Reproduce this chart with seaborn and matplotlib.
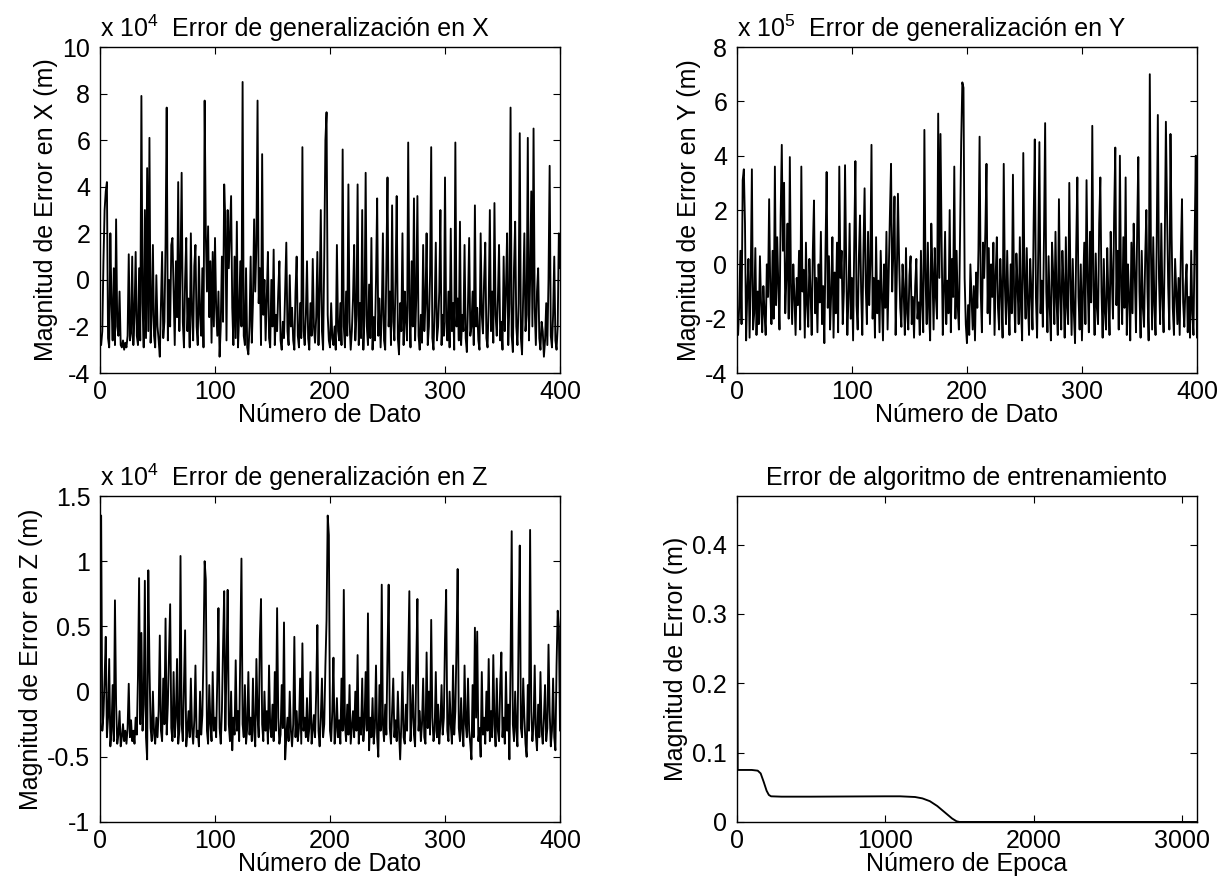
import numpy as np
import matplotlib
matplotlib.use("Agg")
import matplotlib.pyplot as plt
from matplotlib.ticker import FormatStrFormatter
import seaborn as sns

# error de generalizacion en X (en unidades del eje, x 10^4)
err_x = [
    -2.8, -2.2, 0.8, 3.0, 3.8, 4.2, -2.5, -2.9, 2.0, -1.0, -2.6, 0.5, -2.8, 2.6, -2.0, -2.4, -0.5, -2.8, -2.9, -2.6,
    -3.0, -2.7, -2.9, -2.4, 1.1, -2.6, -2.3, 1.0, -2.8, -1.5, 1.2, -2.4, -2.8, 0.5, -2.6, 7.9, -1.0, -2.9, 3.0, -2.5,
    4.8, -2.2, 6.1, -2.7, -1.5, 1.5, -2.4, -2.9, 0.2, -2.0, -2.6, -3.3, -1.0, 1.2, -2.5, -1.8, 1.5, 7.4, -2.6, 0.0,
    -2.0, 1.5, 1.8, -0.5, -2.8, 0.8, -1.6, 4.2, -2.2, 0.5, 4.6, -1.8, -2.9, 0.0, 1.8, -2.2, -0.8, -2.9, 2.0, -1.5,
    -2.6, 0.6, 1.5, -2.0, -2.8, 1.0, -1.5, -2.4, 0.5, -2.9, 7.7, 2.0, -0.5, 2.3, -1.6, 0.8, -2.7, 1.2, -2.0, 1.8,
    -1.2, -2.4, -0.5, -3.3, -2.0, 1.0, -1.8, 4.1, 2.5, -2.6, 3.0, 0.5, 2.0, 3.6, -1.2, -2.8, 1.0, -2.5, 2.5, -2.9,
    -1.5, 0.8, -2.0, 8.5, -2.4, -2.8, 0.5, -2.9, -3.2, -2.0, 1.0, -2.7, -1.0, 2.6, -0.5, 1.5, 7.7, -1.0, 0.5, -2.8,
    5.4, -1.5, 0.0, -2.6, -0.8, 1.2, -2.5, -2.9, 0.0, -2.0, 1.3, -2.8, -1.5, -2.2, -0.5, 0.8, -2.6, -3.0, -1.8, -2.5,
    -0.5, 1.6, -2.2, -2.8, 0.2, -2.0, -1.2, -2.6, -3.0, -0.5, 1.0, -2.4, -2.9, -1.0, -2.5, 5.7, -2.2, -2.8, -1.5, 0.8,
    -2.5, -3.0, -1.0, -2.4, 0.9, -2.0, -2.7, -1.6, 1.2, -2.8, -0.5, 3.0, -2.2, -3.0, 1.0, 6.0, 7.2, -1.5, -2.6, -2.9,
    -1.0, -2.5, -2.8, -2.0, -3.0, 1.5, -2.2, -2.6, -1.0, -2.8, 5.6, -2.0, -2.9, -0.5, -2.4, 4.1, -1.8, -3.0, -2.2, -0.8,
    1.5, -2.6, -1.5, 4.1, -2.8, -1.0, -2.5, 3.0, -3.0, -1.5, 4.6, -2.0, -2.8, -0.2, -2.5, 1.8, -3.0, -1.6, -2.6, 0.0,
    3.5, -2.4, -0.8, -2.9, -1.5, 2.0, -2.6, -3.0, 0.5, 4.4, -2.0, -0.5, -2.8, 3.2, -1.8, -2.6, 0.0, 3.6, -2.5, -3.2,
    -1.0, -2.2, 2.0, -2.8, -0.5, -1.8, -2.6, 5.9, -1.2, -2.9, 0.8, -2.0, 3.5, -2.6, -0.8, 3.6, -2.4, -3.0, -1.5, -2.7,
    1.5, -2.2, -1.0, 2.0, -2.8, -2.0, 0.2, 5.7, -2.5, -3.0, -1.2, 1.6, -2.6, -2.0, -0.5, 3.0, -2.8, -1.5, -2.4, 4.4,
    -1.8, -2.6, -0.5, -2.9, 2.2, -2.2, -1.0, -3.0, 5.9, -2.0, -0.8, -2.6, 2.5, -2.8, -1.5, -2.2, 1.5, -2.5, -3.1, -1.0,
    1.8, -2.4, -2.0, -0.5, -2.8, 3.2, -2.0, -1.2, -2.6, -3.0, 2.0, -1.5, -2.3, 0.0, 1.6, -2.5, -2.9, -1.0, 3.0, -2.2,
    -0.5, -2.7, 3.3, -1.5, -2.4, -0.8, 1.5, -2.6, -1.8, -3.0, 1.0, -2.2, -0.5, 2.0, -2.8, -1.0, 7.4, -2.4, -3.1, 0.5,
    2.5, -2.0, -2.8, -1.0, 6.3, -2.5, -3.2, -0.5, 2.0, -2.2, -1.5, 6.1, -2.6, 0.0, 3.8, -2.0, 6.5, -1.2, -2.8, -0.5,
    0.5, -2.5, -3.0, -1.8, -2.2, -3.3, -2.6, -1.0, -2.8, 0.0, 4.9, -2.4, -2.9, -1.5, 1.0, -2.6, -3.0, -2.0, 2.0, 0.5,
]

# error de generalizacion en Y (x 10^5)
err_y = [
    -2.6, -1.5, 0.5, -2.2, 3.1, 3.5, 1.5, -2.8, -1.0, 0.2, -2.7, -0.5, 3.5, -2.4, -1.8, 0.6, -2.6, -1.0, -2.2, 0.3,
    -1.5, -2.5, -0.8, -1.8, -2.6, 0.0, -1.2, 2.4, -1.0, -2.2, 0.5, -2.0, 3.6, -1.5, 1.0, -0.8, -2.4, 1.8, 4.4, 0.5,
    3.0, -1.8, -0.5, 1.5, -2.0, 3.95, -0.8, -2.2, 0.0, -1.2, -2.6, -0.5, -1.5, 0.5, -2.4, 3.6, -1.0, -0.2, -2.7, 0.8,
    -1.5, -2.3, 0.2, -1.0, -2.6, 0.5, 2.35, -1.8, -0.5, -2.5, 0.0, -1.4, 1.2, -2.2, -0.8, -2.9, 0.5, 3.4, -1.6, 0.3,
    -2.4, -1.0, 1.0, -2.7, -0.3, -1.8, 0.8, -2.5, 3.6, -0.5, 0.5, -2.2, -1.0, 3.65, 0.0, -2.6, -1.2, 1.5, -2.0, -0.5,
    -2.8, 0.8, 3.8, -1.5, -2.4, 0.2, 1.8, -1.0, -2.6, 0.5, 2.8, -0.8, -2.2, 1.2, -1.5, 0.0, 4.4, -2.0, -0.5, -2.7,
    1.0, -1.8, -0.6, -2.5, 0.5, -1.2, -2.8, 0.0, -1.6, 1.2, -2.4, -0.2, 1.8, 3.7, -1.0, 0.5, 2.5, -2.6, -0.5, 2.6,
    0.2, -1.6, -2.3, 0.0, -1.0, -2.6, 0.6, -1.8, -2.4, -0.4, 0.3, -2.2, -1.2, -2.7, -0.8, 0.2, -2.0, -1.4, -2.6, 0.5,
    -1.5, -2.5, 4.95, -0.5, -2.2, 0.8, -1.6, -2.8, 1.5, -0.2, -2.4, 0.6, -1.2, -2.0, 5.55, -0.5, 4.8, 0.8, -2.6, -1.0,
    1.2, -2.2, -0.6, -1.8, 2.0, -2.5, 0.2, -1.2, 3.6, -2.0, 0.5, -1.5, -2.4, 1.0, 4.5, 6.7, 6.5, -0.5, -2.2, -2.9,
    -1.5, -2.6, 0.0, -1.2, -2.4, -0.8, -2.8, -0.3, -1.6, 0.5, 4.7, -1.0, -2.5, 0.8, -0.5, 1.2, 3.7, -1.8, 0.6, -2.2,
    0.0, -1.2, 0.8, -2.6, -0.4, 1.0, -1.6, -2.4, 0.2, -1.0, -2.7, 3.7, -0.8, -2.2, 0.5, -1.4, -2.6, 0.0, -1.8, 3.3,
    -1.2, -2.5, 0.4, -0.8, -2.2, 1.0, -1.6, -2.8, 4.1, -0.5, -2.0, 0.6, -1.4, -2.6, 0.2, -1.0, -2.4, 1.5, 4.6, -1.2,
    -2.7, 0.5, 4.5, -1.8, -0.6, -2.3, 1.0, 5.2, -1.0, -2.5, 0.3, -1.6, -2.8, 0.8, -0.4, -2.2, 1.2, -1.4, -2.6, 2.4,
    -1.2, -2.4, 0.5, -0.8, -2.7, 1.0, -1.6, -2.2, 3.0, -0.5, -2.6, 0.2, -1.8, -2.9, 0.6, 3.2, -1.2, -2.4, 0.0, -2.8,
    -1.0, 0.8, -2.2, 3.1, -0.6, -2.5, 1.2, -1.4, 5.1, -0.8, -2.6, 0.4, -1.6, -2.2, 1.5, 3.2, -1.0, -2.7, 0.2, -1.8,
    -2.4, 0.6, -1.2, -2.6, 1.2, -0.5, -2.0, 1.8, 4.3, -1.5, 0.5, -2.4, 4.0, -0.8, -2.2, 1.0, -1.6, 3.2, -2.6, 0.0,
    -1.2, -2.8, 0.8, -1.8, 1.5, -0.4, -2.5, 1.2, 3.95, -1.0, -2.7, 0.5, -1.6, -2.3, 0.2, 2.0, -1.0, -2.8, 7.0, 0.5,
    -2.4, 1.0, -1.5, -2.6, 0.8, 5.5, -0.5, -2.2, 1.5, -1.2, -2.5, 0.6, 5.25, 2.0, -0.8, -2.4, 4.8, 1.0, -1.6, -2.6,
    0.2, -1.0, -2.2, -0.5, -2.6, 0.4, 2.4, -1.4, -2.3, -0.8, 0.0, -2.5, -1.2, -2.7, 0.5, -1.8, -2.6, 1.0, 4.0, -2.7,
]

# error de generalizacion en Z (x 10^4)
err_z = [
    1.35, -0.30, -0.18, 0.10, 0.42, -0.35, -0.20, 0.25, -0.42, -0.30, 0.05, -0.38, 0.70, -0.10, -0.40, -0.33, -0.15, -0.42, -0.35, -0.25,
    -0.38, -0.30, -0.40, -0.28, 0.06, -0.35, -0.22, -0.38, -0.30, -0.40, -0.20, -0.33, 0.10, 0.87, -0.25, 0.45, -0.30, -0.10, 0.85, -0.35,
    -0.52, 0.93, 0.20, -0.28, -0.38, 0.00, -0.32, -0.40, -0.20, -0.35, -0.15, 0.43, -0.30, -0.38, 0.10, -0.25, 0.56, -0.33, -0.10, 0.30,
    0.67, -0.28, -0.38, 0.15, -0.35, -0.20, 0.25, -0.40, -0.30, 1.04, -0.25, -0.38, 0.05, 0.47, -0.42, -0.30, -0.15, -0.35, 0.10, -0.28,
    -0.40, -0.22, 0.20, -0.35, -0.30, -0.42, 0.00, -0.33, -0.18, 0.30, 1.00, 0.86, -0.30, -0.40, 0.05, -0.25, -0.38, 0.15, -0.30, -0.20,
    -0.35, 0.10, 0.64, -0.28, -0.40, -0.15, 0.35, 0.77, -0.30, 0.20, 0.78, -0.25, -0.38, 0.00, -0.45, -0.20, -0.33, 0.24, -0.30, -0.15,
    -0.38, 0.30, 1.02, -0.25, -0.35, 0.05, -0.40, -0.28, 0.15, -0.33, -0.20, -0.38, 0.10, -0.30, -0.42, 0.25, -0.18, -0.35, 0.40, 0.71,
    -0.25, -0.38, 0.00, -0.30, -0.15, -0.40, 0.20, -0.28, -0.35, -0.10, -0.38, 0.15, -0.30, 0.64, -0.20, -0.40, -0.33, 0.05, -0.28, 0.53,
    -0.52, -0.35, -0.20, -0.38, 0.00, -0.30, -0.42, -0.25, 0.42, -0.35, -0.15, -0.38, -0.28, 0.10, -0.40, 0.37, -0.30, -0.20, -0.35, -0.05,
    -0.38, -0.28, 0.15, -0.40, -0.30, -0.18, -0.35, 0.00, 0.51, -0.30, -0.42, -0.20, 0.10, -0.35, -0.25, 0.20, 0.55, 1.35, 1.20, -0.30,
    -0.38, -0.15, 0.26, -0.40, -0.30, -0.05, -0.35, -0.22, -0.40, 0.10, -0.30, 0.78, -0.25, -0.38, -0.10, -0.33, 0.05, -0.40, -0.28, -0.15,
    -0.35, 0.00, -0.30, 0.28, -0.40, -0.20, -0.33, 0.10, -0.38, -0.25, 0.15, -0.30, 0.60, -0.45, -0.20, -0.35, -0.05, -0.40, -0.28, 0.20,
    -0.35, -0.50, 0.05, -0.30, 0.82, -0.25, -0.38, -0.10, -0.33, 0.30, 0.82, -0.28, -0.40, -0.15, 0.10, -0.35, -0.22, -0.38, 0.00, -0.30,
    -0.52, -0.25, 0.15, -0.35, -0.40, -0.10, -0.30, 0.25, 0.77, -0.38, -0.20, 0.05, -0.33, -0.42, 0.20, 0.71, -0.30, -0.15, -0.38, -0.25,
    0.10, -0.35, -0.40, 0.30, -0.28, 0.00, -0.33, 0.55, -0.20, -0.38, -0.30, 0.15, -0.35, -0.10, -0.40, -0.25, 0.05, -0.33, -0.20, 0.40,
    0.78, -0.30, -0.38, 0.00, -0.25, -0.40, 0.20, -0.33, -0.15, 0.35, 0.94, -0.28, -0.38, -0.05, -0.30, -0.42, 0.20, -0.25, -0.35, 0.10,
    -0.30, -0.40, -0.52, 0.05, -0.35, 0.49, -0.20, 0.46, -0.38, -0.28, -0.50, 0.15, -0.33, -0.20, -0.40, 0.00, -0.30, 0.25, -0.38, -0.15,
    -0.35, 0.28, -0.25, -0.42, 0.10, -0.30, -0.38, 0.05, 0.30, -0.35, -0.20, -0.40, 0.15, -0.30, -0.10, -0.52, 0.20, 1.23, -0.25, -0.38,
    0.00, -0.30, -0.42, 0.46, 1.12, -0.28, -0.35, 0.10, -0.20, -0.40, -0.50, 0.05, -0.30, 1.24, -0.15, -0.38, -0.25, 0.20, -0.33, -0.45,
    -0.10, -0.35, 0.15, -0.30, -0.40, -0.20, 0.05, -0.38, -0.28, 0.36, -0.15, -0.42, -0.30, 0.10, -0.35, -0.45, 0.20, 0.62, 0.50, -0.30,
]

# error del algoritmo de entrenamiento
epocas = [0, 5, 10, 50, 100, 140, 160, 180, 200, 215, 230, 300, 500, 800, 1000, 1100,
          1200, 1250, 1300, 1350, 1400, 1450, 1480, 1500, 2000, 2500, 3100]
err_train = [0.47, 0.075, 0.075, 0.075, 0.075, 0.074, 0.070, 0.058, 0.045, 0.039, 0.037,
             0.0365, 0.0365, 0.0368, 0.037, 0.037, 0.036, 0.034, 0.030, 0.023, 0.014,
             0.005, 0.001, 0.0, 0.0, 0.0, 0.0]

assert len(err_x) == 400 and len(err_y) == 400 and len(err_z) == 400
dato = np.arange(1, 401)

sns.set_theme(style="ticks")
plt.rcParams['font.family'] = ['Liberation Sans', 'DejaVu Sans']
plt.rcParams['axes.unicode_minus'] = False
plt.rcParams['mathtext.fontset'] = 'custom'
plt.rcParams['mathtext.rm'] = 'Liberation Sans'
plt.rcParams['mathtext.it'] = 'Liberation Sans:italic'
plt.rcParams['text.color'] = 'black'
plt.rcParams['axes.labelcolor'] = 'black'
plt.rcParams['xtick.color'] = 'black'
plt.rcParams['ytick.color'] = 'black'

FS = 18
LW = 1.35
fig = plt.figure(figsize=(12.27, 8.81), dpi=100)

ax1 = fig.add_axes([0.0815, 0.5766, 0.3749, 0.3700])
ax2 = fig.add_axes([0.6006, 0.5766, 0.3749, 0.3700])
ax3 = fig.add_axes([0.0815, 0.0670, 0.3749, 0.3700])
ax4 = fig.add_axes([0.6006, 0.0670, 0.3749, 0.3700])


def estilo(ax, ylim, yticks, ylabel, titulo, xlabel, expo=None):
    ax.set_ylim(*ylim)
    ax.set_yticks(yticks)
    ax.yaxis.set_major_formatter(FormatStrFormatter('%g'))
    ax.xaxis.set_major_formatter(FormatStrFormatter('%g'))
    ax.tick_params(direction='in', length=5, width=0.8, top=True, right=True,
                   labelsize=FS, colors='black')
    ax.tick_params(axis='y', pad=7)
    ax.tick_params(axis='x', pad=5)
    for s in ax.spines.values():
        s.set_color('black')
        s.set_linewidth(1.0)
    ax.set_ylabel(ylabel, fontsize=FS, labelpad=3, color='black')
    ax.set_xlabel(xlabel, fontsize=FS, labelpad=-1, color='black')
    ax.set_title(titulo, fontsize=FS, pad=8, color='black')
    if expo is not None:
        ax.text(0.0, 1.015, 'x 10$^{%d}$' % expo, transform=ax.transAxes,
                ha='left', va='bottom', fontsize=FS, color='black')
    ax.grid(False)


sns.lineplot(x=dato, y=err_x, ax=ax1, color='black', linewidth=LW, estimator=None)
ax1.set_xlim(0, 400)
ax1.set_xticks([0, 100, 200, 300, 400])
estilo(ax1, (-4, 10), [-4, -2, 0, 2, 4, 6, 8, 10], 'Magnitud de Error en X (m)',
       'Error de generalización en X', 'Número de Dato', expo=4)

sns.lineplot(x=dato, y=err_y, ax=ax2, color='black', linewidth=LW, estimator=None)
ax2.set_xlim(0, 400)
ax2.set_xticks([0, 100, 200, 300, 400])
estilo(ax2, (-4, 8), [-4, -2, 0, 2, 4, 6, 8], 'Magnitud de Error en Y (m)',
       'Error de generalización en Y', 'Número de Dato', expo=5)

sns.lineplot(x=dato, y=err_z, ax=ax3, color='black', linewidth=LW, estimator=None)
ax3.set_xlim(0, 400)
ax3.set_xticks([0, 100, 200, 300, 400])
estilo(ax3, (-1, 1.5), [-1, -0.5, 0, 0.5, 1, 1.5], 'Magnitud de Error en Z (m)',
       'Error de generalización en Z', 'Número de Dato', expo=4)

sns.lineplot(x=epocas, y=err_train, ax=ax4, color='black', linewidth=LW, estimator=None)
ax4.set_xlim(0, 3100)
ax4.set_xticks([0, 1000, 2000, 3000])
estilo(ax4, (0, 0.47), [0, 0.1, 0.2, 0.3, 0.4], 'Magnitud de Error (m)',
       'Error de algoritmo de entrenamiento', 'Número de Epoca')

fig.savefig('out.png', dpi=100)
